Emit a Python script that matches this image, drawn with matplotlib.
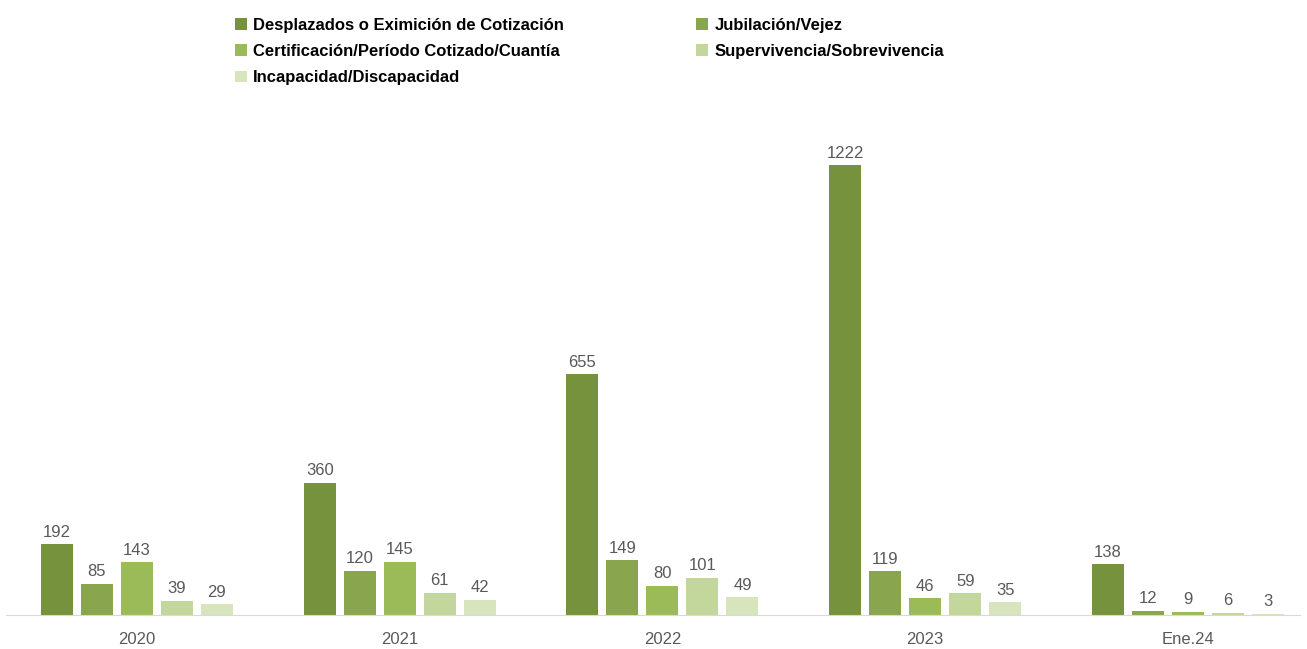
import numpy as np
import matplotlib.pyplot as plt

categories = ["2020", "2021", "2022", "2023", "Ene.24"]
series_names = [
    "Desplazados o Eximición de Cotización",
    "Jubilación/Vejez",
    "Certificación/Período Cotizado/Cuantía",
    "Supervivencia/Sobrevivencia",
    "Incapacidad/Discapacidad",
]
desplazados = [192, 360, 655, 1222, 138]
jubilacion = [85, 120, 149, 119, 12]
certificacion = [143, 145, 80, 46, 9]
supervivencia = [39, 61, 101, 59, 6]
incapacidad = [29, 42, 49, 35, 3]

values = [desplazados, jubilacion, certificacion, supervivencia, incapacidad]
colors = ["#76923C", "#89A54E", "#9BBB59", "#C3D69B", "#D7E4BC"]

plt.rcParams['font.family'] = ['Liberation Sans', 'DejaVu Sans']

W, H = 1307, 649
fig = plt.figure(figsize=(W / 100, H / 100), dpi=100)
ax = fig.add_axes([5.6 / W, 1 - 615 / H, (1300 - 5.6) / W, 515 / H])

x = np.arange(len(categories))
step = 40 / 262.75
width = 32 / 262.75
handles = []
for i, (vals, col) in enumerate(zip(values, colors)):
    pos = x + (i - 2) * step
    b = ax.bar(pos, vals, width, color=col, label=series_names[i])
    handles.append(b)
    for p, v in zip(pos, vals):
        ax.text(p, v + 12, str(v), ha='center', va='bottom', fontsize=12, color='#595959')

ax.set_xlim(-0.5, (1300 - 137) / 262.75)
ax.set_ylim(0, 1400)
ax.set_xticks(x)
ax.set_xticklabels(categories, fontsize=12, color='#595959')
ax.tick_params(axis='x', length=0, pad=12)
ax.set_yticks([])
for s in ['top', 'right', 'left']:
    ax.spines[s].set_visible(False)
ax.spines['bottom'].set_color('#D9D9D9')

# legend fills column-wise, so reorder to read row by row
order = [0, 2, 4, 1, 3]
fig.legend([handles[i] for i in order], [series_names[i] for i in order],
           loc='upper left', bbox_to_anchor=(220 / W, 1 - 3 / H), ncol=2,
           frameon=False, handlelength=0.7, handleheight=0.7,
           handletextpad=0.4, columnspacing=7.9, labelspacing=0.67,
           prop={'weight': 'bold', 'size': 12})

fig.savefig("out.png", dpi=100)
